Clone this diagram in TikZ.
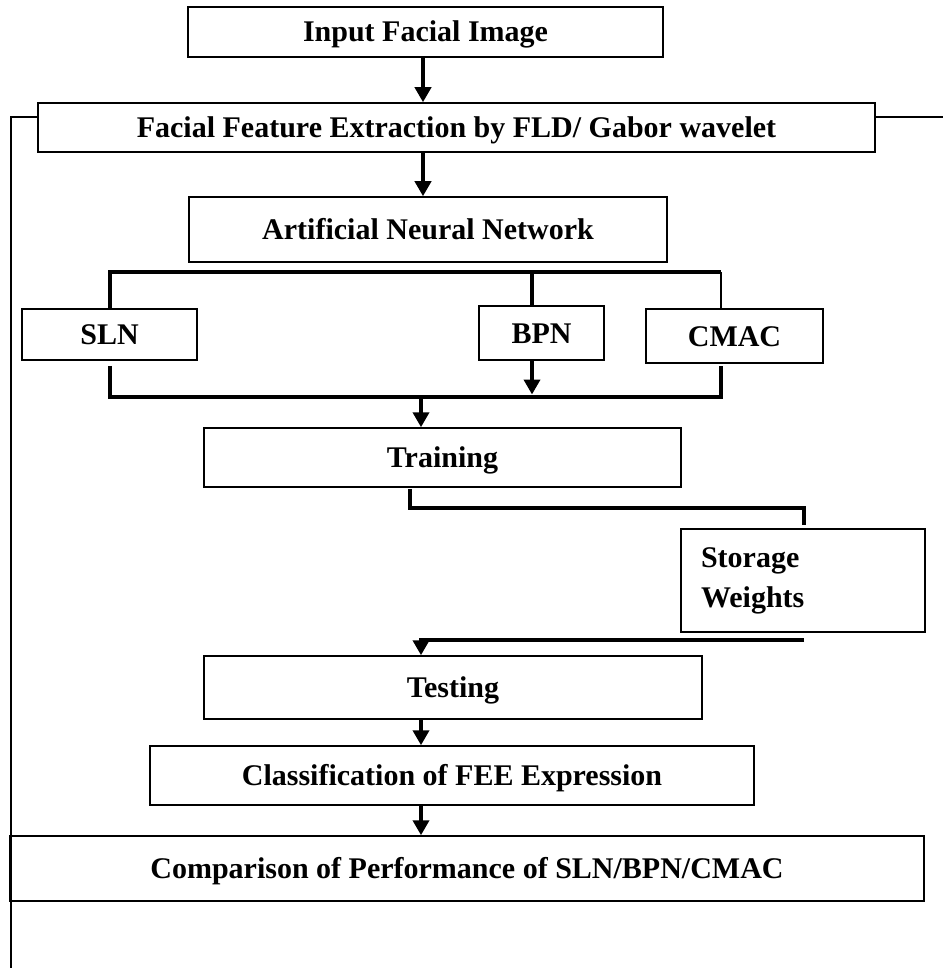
\documentclass[tikz,border=0pt]{standalone}
\usepackage{fontspec}
\setmainfont{Liberation Serif}
\usetikzlibrary{arrows.meta}
\begin{document}
\begin{tikzpicture}[x=1pt,y=-1pt,
  box/.style={draw, line width=1.5pt, inner sep=0pt,
    font=\bfseries\fontsize{30}{36}\selectfont, text height=20pt, text depth=0pt},
  bus/.style={line width=4.5pt},
  arr/.style={line width=4.5pt, -{Triangle[width=16pt,length=15pt]}},
  fine/.style={line width=1.1pt}]
\useasboundingbox[fill=white] (0,0) rectangle (943,968);
% boxes
\node[box, minimum width=475pt, minimum height=50pt] (inp) at (425.5,32) {Input Facial Image};
\node[box, minimum width=837pt, minimum height=49pt] (fld) at (456.5,127.5) {Facial Feature Extraction by FLD/ Gabor wavelet};
\node[box, minimum width=478pt, minimum height=65pt] (ann) at (428,229.5) {Artificial Neural Network};
\node[box, minimum width=175pt, minimum height=51pt] (sln) at (109.5,334.5) {SLN};
\node[box, minimum width=125pt, minimum height=54pt] (bpn) at (541.5,333) {BPN};
\node[box, minimum width=177pt, minimum height=54pt] (cmac) at (734.5,336) {CMAC};
\node[box, minimum width=477pt, minimum height=59pt] (train) at (442.5,457.5) {Training};
\node[draw, line width=1.5pt, inner xsep=20pt, inner ysep=0pt, text width=204pt, align=left,
  minimum height=103pt, font=\bfseries\fontsize{30}{40}\selectfont] (store) at (803,580.5) {Storage\\Weights};
\node[box, minimum width=498pt, minimum height=63pt] (test) at (453,687.5) {Testing};
\node[box, minimum width=604pt, minimum height=59pt] (cls) at (452,775.5) {Classification of FEE Expression};
\node[box, minimum width=914pt, minimum height=65pt] (cmp) at (467,868.5) {Comparison of Performance of SLN/BPN/CMAC};
% helper coordinates
\coordinate (ax) at (423,0);
\coordinate (bx) at (421,0);
\coordinate (tbL) at (110,272);
\coordinate (tbM) at (532,272);
\coordinate (tbR) at (721,272);
\coordinate (bbL) at (110,397);
\coordinate (bbM) at (532,397);
\coordinate (bbR) at (721,397);
\coordinate (t1) at (410,508);
\coordinate (t2) at (804,508);
\coordinate (w1) at (804,640);
\coordinate (w2) at (421,640);
\coordinate (o1) at (11,117);
\coordinate (o2) at (11,968);
\coordinate (o3) at (943,117);
% connectors
\draw[arr] (inp.south -| ax) -- (fld.north -| ax);
\draw[arr] (fld.south -| ax) -- (ann.north -| ax);
\draw[bus] (sln.north -| tbL) -- (tbL) -- (tbR);
\draw[fine] (tbR) -- (cmac.north -| tbR);
\draw[bus] (tbM) -- (bpn.north -| tbM);
\draw[bus, shorten <=5pt, shorten >=2pt] (sln.south -| bbL) -- (bbL) -- (bbR) -- (cmac.south -| bbR);
\draw[arr, shorten >=2.5pt] (bpn.south -| bbM) -- (bbM);
\draw[arr] (bbL -| bx) -- (train.north -| bx);
\draw[bus, shorten <=1pt, shorten >=3pt] (train.south -| t1) -- (t1) -- (t2) -- (store.north -| t2);
\draw[arr] (w1) -- (w2) -- (test.north -| w2);
\draw[arr] (test.south -| bx) -- (cls.north -| bx);
\draw[arr] (cls.south -| bx) -- (cmp.north -| bx);
\draw[fine] (fld.west |- o1) -- (o1) -- (o2);
\draw[fine] (fld.east |- o1) -- (o3);
\end{tikzpicture}
\end{document}
